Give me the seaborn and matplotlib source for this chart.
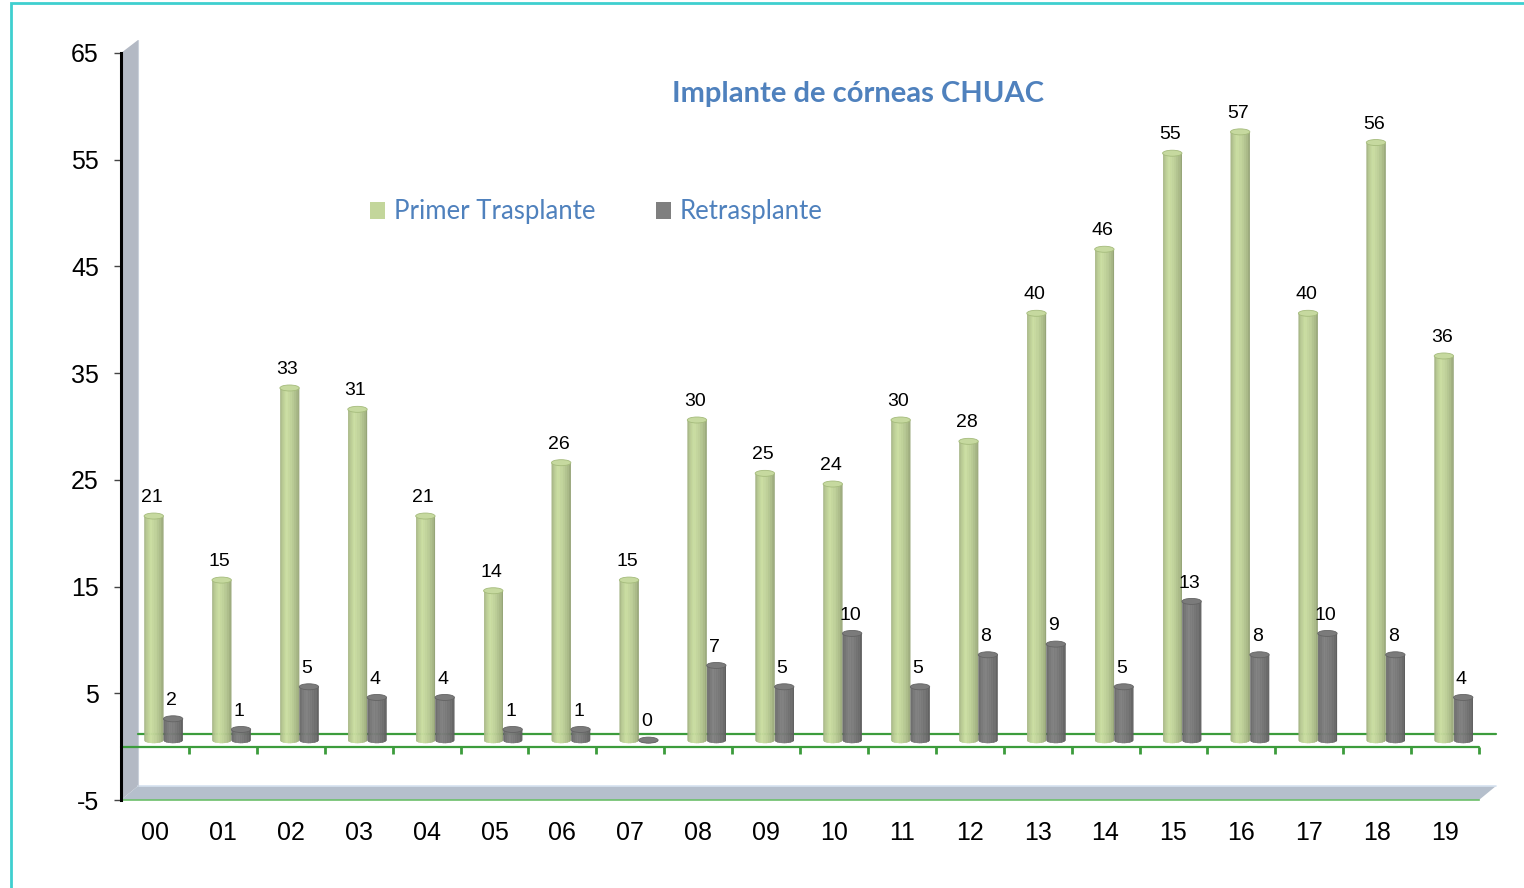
import numpy as np
import pandas as pd
import matplotlib
matplotlib.use("Agg")
import matplotlib.pyplot as plt
import seaborn as sns
from matplotlib.patches import Ellipse, PathPatch, Polygon, Rectangle, Patch
from matplotlib.path import Path
from matplotlib.collections import PolyCollection
from matplotlib.transforms import ScaledTranslation
from matplotlib.colors import to_rgb

# ---- data -------------------------------------------------------------
years = ["00", "01", "02", "03", "04", "05", "06", "07", "08", "09",
         "10", "11", "12", "13", "14", "15", "16", "17", "18", "19"]
primer = [21, 15, 33, 31, 21, 14, 26, 15, 30, 25,
          24, 30, 28, 40, 46, 55, 57, 40, 56, 36]
retras = [2, 1, 5, 4, 4, 1, 1, 0, 7, 5,
          10, 5, 8, 9, 5, 13, 8, 10, 8, 4]
series_names = ["Primer Trasplante", "Retrasplante"]
y_ticks = [-5, 5, 15, 25, 35, 45, 55, 65]
title = "Implante de córneas CHUAC"

# ---- style ------------------------------------------------------------
GREEN = "#c3d69b"
GRAY = "#7a7a7a"
TOP_COLORS = {GREEN: ("#c6d99f", "#a5bb7c"), GRAY: ("#7b7b7b", "#646464")}
BLUE_TXT = "#4f81bd"
FLOOR_GREEN = "#3c9c3c"
WALL = "#b3b9c4"
BAND = "#b5bfcc"

sns.set_theme(style="white")
plt.rcParams["font.family"] = ["Liberation Sans", "DejaVu Sans"]
plt.rcParams["axes.unicode_minus"] = False

DPI = 100
W, H = 1524, 888
fig = plt.figure(figsize=(W / DPI, H / DPI), dpi=DPI)
fig.patch.set_facecolor("white")
ax_l, ax_b, ax_w, ax_h = 121, 88, 1358, 747
ax = fig.add_axes([ax_l / W, ax_b / H, ax_w / W, ax_h / H])
ax.set_facecolor("none")

df = pd.DataFrame({
    "year": years * 2,
    "valor": primer + retras,
    "serie": [series_names[0]] * len(years) + [series_names[1]] * len(years),
})
palette = [GREEN, GRAY]
sns.barplot(data=df, x="year", y="valor", hue="serie", palette=palette,
            width=0.57, gap=0, dodge=True, errorbar=None, legend=False, ax=ax)

ax.set_xlim(-0.5, len(years) - 0.5)
ax.set_ylim(-5, 65)
ax.set_yticks(y_ticks)
ax.set_xlabel("")
ax.set_ylabel("")

# ---- pseudo 3-D depth ------------------------------------------------------
DEPTH_X, DEPTH_Y = 17, 13          # back-plane shift in pixels
px_per_unit = ax_h / 70.0
back_tr = ax.transData + ScaledTranslation(DEPTH_X / DPI, DEPTH_Y / DPI, fig.dpi_scale_trans)
bar_tr = ax.transData + ScaledTranslation(DEPTH_X / 2 / DPI, DEPTH_Y / 2 / DPI, fig.dpi_scale_trans)

dxa, dya = DEPTH_X / ax_w, DEPTH_Y / ax_h
band_h = 14 / ax_h
wall = Polygon([(0, 0), (0, 1), (dxa, 1 + dya), (dxa, band_h), (0, 0)],
               closed=True, transform=ax.transAxes, facecolor=WALL,
               edgecolor="none", clip_on=False, zorder=0.5)
ax.add_patch(wall)
band = Polygon([(0, 0), (1, 0), (1 + dxa, band_h), (dxa, band_h)],
               closed=True, transform=ax.transAxes, facecolor=BAND,
               edgecolor="none", clip_on=False, zorder=0.6)
ax.add_patch(band)
ax.plot([dxa, 1 + dxa], [band_h, band_h], transform=ax.transAxes,
        color="#d6e2f0", lw=1.2, clip_on=False, zorder=0.7)
ax.plot([dxa, dxa], [band_h, 1 + dya], transform=ax.transAxes,
        color="#c9d0da", lw=0.8, clip_on=False, zorder=0.7)

# floor lines: back edge and front edge with category ticks
ax.plot([-0.5, len(years) - 0.5], [0, 0], transform=back_tr,
        color=FLOOR_GREEN, lw=1.6, clip_on=False, zorder=1.5)
ax.plot([-0.5, len(years) - 0.5], [0, 0], color=FLOOR_GREEN, lw=1.6,
        clip_on=False, zorder=2)
tick_len = 7 / px_per_unit
ax.vlines(np.arange(len(years) + 1) - 0.5, -tick_len, 0, color=FLOOR_GREEN,
          lw=2, clip_on=False, zorder=2)

# ---- cylinders ----------------------------------------------------------
ELL_H = 6 / px_per_unit
N_STRIPS = 28


def shade(base, n):
    t = (np.arange(n) + 0.5) / n
    f = np.interp(t, [0, 0.1, 0.33, 0.6, 0.88, 1.0],
                  [0.80, 0.92, 1.04, 0.97, 0.85, 0.74])
    return np.clip(np.outer(f, to_rgb(base)), 0, 1)


theta = np.linspace(np.pi, 2 * np.pi, 40)
for cont, color in zip(ax.containers, palette):
    cols = shade(color, N_STRIPS)
    top_face, top_edge = TOP_COLORS[color]
    for bar in cont:
        x0, w, top = bar.get_x(), bar.get_width(), bar.get_height()
        cx = x0 + w / 2
        bar.set_visible(False)
        verts = [(x0, top), (x0, 0)]
        verts += [(cx + w / 2 * np.cos(t), ELL_H / 2 * np.sin(t)) for t in theta]
        verts += [(x0 + w, top), (x0, top)]
        body = PathPatch(Path(verts), transform=bar_tr, facecolor="none",
                         edgecolor="none")
        strips = []
        for i in range(N_STRIPS):
            a, b = x0 + w * i / N_STRIPS, x0 + w * (i + 1) / N_STRIPS
            strips.append([(a, -ELL_H), (b, -ELL_H), (b, top), (a, top)])
        pc = PolyCollection(strips, facecolors=cols, edgecolors=cols,
                            linewidths=0.4, transform=bar_tr, zorder=3)
        ax.add_collection(pc, autolim=False)
        pc.set_clip_path(body)
        ax.add_patch(Ellipse((cx, top), w, ELL_H, transform=bar_tr,
                             facecolor=top_face, edgecolor=top_edge,
                             lw=0.6, zorder=3.1))
        ax.annotate(f"{int(round(top))}", xy=(cx, top), xycoords=bar_tr,
                    xytext=(-1.5, 10), textcoords="offset points",
                    ha="center", va="baseline", fontsize=14, color="black",
                    zorder=4)

ax.set_xlim(-0.5, len(years) - 0.5)
ax.set_ylim(-5, 65)

# ---- axes -----------------------------------------------------------------
for s in ("top", "right"):
    ax.spines[s].set_visible(False)
ax.spines["left"].set_color("black")
ax.spines["left"].set_linewidth(2.2)
ax.spines["left"].set_zorder(5)
ax.spines["bottom"].set_color("#6cbf6a")
ax.spines["bottom"].set_linewidth(1.2)
ax.tick_params(axis="y", which="major", left=True, direction="out", length=5,
               width=1, color="#444444", labelsize=18, pad=11, labelcolor="black")
ax.tick_params(axis="x", which="major", bottom=False, length=0, labelsize=18,
               pad=15, labelcolor="black")
ax.grid(False)

# ---- title and legend ----------------------------------------------------
fig.text(858 / W, 1 - 94 / H, title, ha="center", va="center",
         fontsize=21, fontweight="bold", color=BLUE_TXT, family="Lato")

handles = [Patch(facecolor=c, edgecolor="none", label=n)
           for c, n in zip([GREEN, "#7f7f7f"], series_names)]
ax.legend(handles=handles, ncol=2, frameon=False, loc="center left",
          bbox_to_anchor=(370 / W, 1 - 212 / H), bbox_transform=fig.transFigure,
          borderpad=0, borderaxespad=0, handlelength=0.6, handleheight=0.6,
          handletextpad=0.33, columnspacing=2.35, labelcolor=BLUE_TXT,
          prop={"family": "Lato", "size": 18.5})

# ---- outer frame --------------------------------------------------------
fig.patches.append(Rectangle((11 / W, -0.2), 1.2, 1.2 - 3 / H,
                             transform=fig.transFigure, fill=False,
                             edgecolor="#3fcfcf", linewidth=2, zorder=10))

fig.savefig("out.png", dpi=DPI, facecolor="white")
